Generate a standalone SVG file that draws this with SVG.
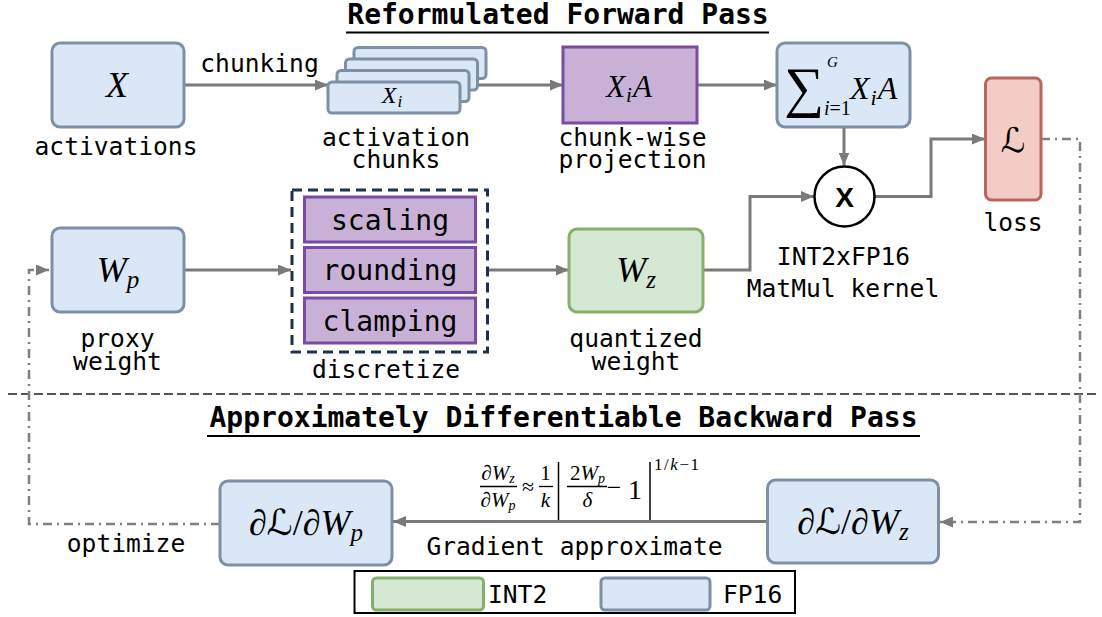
<svg xmlns="http://www.w3.org/2000/svg" width="1102" height="617" viewBox="0 0 1102 617">
  <style>
    .lbl { font-family: "DejaVu Sans Mono", "Liberation Mono", monospace; font-size: 24.6px; fill: #000; text-anchor: middle; }
    .big { font-size: 28px; }
    .start { text-anchor: start; }
    .ttl { font-family: "DejaVu Sans Mono", "Liberation Mono", monospace; font-size: 28px; font-weight: bold; fill: #000; text-anchor: middle; }
    .math { font-family: "Liberation Serif", "DejaVu Serif", serif; font-style: italic; fill: #000; }
    .rm { font-family: "Liberation Serif", "DejaVu Serif", serif; font-style: normal; fill: #000; }
    .scr { font-family: "DejaVu Serif", "DejaVu Sans", serif; font-style: italic; fill: #000; }
    .blue { fill: #dae7f6; stroke: #7d90a6; stroke-width: 3; }
    .purple { fill: #c8b0d6; stroke: #7b4aa2; stroke-width: 3; }
    .green { fill: #d5e8d4; stroke: #86b06a; stroke-width: 3; }
    .red { fill: #f4ccc6; stroke: #b8655e; stroke-width: 3; }
    .flow { fill: none; stroke: #7a7a7a; stroke-width: 3; }
    .loop { fill: none; stroke: #808080; stroke-width: 2.5; stroke-dasharray: 9 5 2 5; }
    .rule { stroke: #000; stroke-width: 2; }
    .bar { stroke: #000; stroke-width: 1.3; }
  </style>
  <defs>
    <marker id="arrow" markerUnits="userSpaceOnUse" markerWidth="13" markerHeight="11" refX="13" refY="5.5" orient="auto">
      <path d="M0,0 L13,5.5 L0,11 Z" fill="#7a7a7a"/>
    </marker>
  </defs>

  <rect x="0" y="0" width="1102" height="617" fill="#fff"/>

  <!-- section titles -->
  <g id="titles">
    <text class="ttl" x="558" y="24">Reformulated Forward Pass</text>
    <line class="rule" x1="346" y1="32.5" x2="769" y2="32.5"/>
    <text class="ttl" x="563.5" y="427">Approximately Differentiable Backward Pass</text>
    <line class="rule" x1="207" y1="436" x2="920" y2="436"/>
  </g>

  <!-- forward / backward separator -->
  <line id="separator" x1="8" y1="394" x2="1100" y2="394" stroke="#555" stroke-width="2" stroke-dasharray="9 4"/>

  <!-- connectors -->
  <g id="connectors">
    <path class="flow" d="M184,85 H328" marker-end="url(#arrow)"/>
    <path class="flow" d="M470,85 H563" marker-end="url(#arrow)"/>
    <path class="flow" d="M697,85 H777" marker-end="url(#arrow)"/>
    <path class="flow" d="M844,127 V165.5" marker-end="url(#arrow)"/>
    <path class="flow" d="M184,270 H291" marker-end="url(#arrow)"/>
    <path class="flow" d="M488,270 H569" marker-end="url(#arrow)"/>
    <path class="flow" d="M703,270 H750 V196.5 H814" marker-end="url(#arrow)"/>
    <path class="flow" d="M875,196.5 H931 V139 H985" marker-end="url(#arrow)"/>
    <path class="flow" d="M767,521.5 H393" marker-end="url(#arrow)"/>
    <path class="loop" d="M1041,139 H1080 V522 H940" marker-end="url(#arrow)"/>
    <path class="loop" d="M220,524 H29 V270 H49" marker-end="url(#arrow)"/>
  </g>

  <!-- activations -->
  <g id="node-x">
    <rect class="blue" x="52" y="43" width="132" height="84" rx="8"/>
    <text class="math" x="117" y="97" font-size="36" text-anchor="middle">X</text>
    <text class="lbl" x="116" y="155">activations</text>
  </g>
  <text class="lbl" x="259.5" y="72">chunking</text>

  <!-- activation chunks -->
  <g id="node-chunks">
    <rect class="blue" x="354" y="47.5" width="132" height="31" rx="4"/>
    <rect class="blue" x="345.5" y="59" width="132" height="31" rx="4"/>
    <rect class="blue" x="337" y="70.5" width="132" height="31" rx="4"/>
    <rect class="blue" x="328" y="82" width="132" height="31" rx="4"/>
    <text class="math" x="392" y="103" font-size="24" text-anchor="middle">X<tspan font-size="17" dx="1" dy="4">i</tspan></text>
    <text class="lbl" x="396" y="146">activation</text>
    <text class="lbl" x="396" y="168">chunks</text>
  </g>

  <!-- chunk-wise projection -->
  <g id="node-xia">
    <rect class="purple" x="563" y="47" width="134" height="76"/>
    <text class="math" x="629" y="97" font-size="31" text-anchor="middle">X<tspan font-size="21" dx="1" dy="5">i</tspan><tspan dx="1" dy="-5">A</tspan></text>
    <text class="lbl" x="632.5" y="146">chunk-wise</text>
    <text class="lbl" x="632.5" y="168">projection</text>
  </g>

  <!-- sum over chunks -->
  <g id="node-sum">
    <rect class="blue" x="777" y="43" width="133" height="84" rx="8"/>
    <text class="rm" x="784" y="106" font-size="56">∑</text>
    <text class="math" x="827" y="67" font-size="15">G</text>
    <text class="math" x="824" y="115" font-size="20">i<tspan class="rm">=1</tspan></text>
    <text class="math" x="850" y="99" font-size="32">X<tspan font-size="22" dx="1" dy="6">i</tspan><tspan dx="1" dy="-6">A</tspan></text>
  </g>

  <!-- multiply kernel -->
  <g id="node-mul">
    <circle cx="844.5" cy="196.5" r="30" fill="#fff" stroke="#000" stroke-width="2.5"/>
    <text x="844.5" y="206.5" font-family="Liberation Sans, DejaVu Sans, sans-serif" font-weight="bold" font-size="28" text-anchor="middle">X</text>
    <text class="lbl" x="843.5" y="265">INT2xFP16</text>
    <text class="lbl" x="843" y="297">MatMul kernel</text>
  </g>

  <!-- loss -->
  <g id="node-loss">
    <rect class="red" x="985.5" y="78" width="55.5" height="122" rx="6"/>
    <text class="scr" x="1013" y="152" font-size="34" text-anchor="middle">ℒ</text>
    <text class="lbl" x="1013" y="231">loss</text>
  </g>

  <!-- proxy weight -->
  <g id="node-wp">
    <rect class="blue" x="52" y="228" width="132" height="84" rx="8"/>
    <text class="math" x="118" y="282" font-size="36" text-anchor="middle">W<tspan font-size="25" dy="6">p</tspan></text>
    <text class="lbl" x="117.5" y="347">proxy</text>
    <text class="lbl" x="117.5" y="370">weight</text>
  </g>

  <!-- discretize -->
  <g id="node-discretize">
    <rect x="292" y="190" width="195.5" height="162" fill="none" stroke="#1f3152" stroke-width="3" stroke-dasharray="10 6"/>
    <rect class="purple" x="304.5" y="197" width="171" height="45"/>
    <rect class="purple" x="304.5" y="247.5" width="171" height="45"/>
    <rect class="purple" x="304.5" y="298" width="171" height="45"/>
    <text class="lbl big" x="390" y="229.5">scaling</text>
    <text class="lbl big" x="390" y="280">rounding</text>
    <text class="lbl big" x="390" y="330.5">clamping</text>
    <text class="lbl" x="386" y="378">discretize</text>
  </g>

  <!-- quantized weight -->
  <g id="node-wz">
    <rect class="green" x="569" y="229" width="134" height="83" rx="8"/>
    <text class="math" x="636" y="282" font-size="36" text-anchor="middle">W<tspan font-size="25" dy="6">z</tspan></text>
    <text class="lbl" x="636" y="347">quantized</text>
    <text class="lbl" x="636" y="370">weight</text>
  </g>

  <!-- gradient w.r.t. proxy weight -->
  <g id="node-dwp">
    <rect class="blue" x="220" y="481" width="172" height="84" rx="8"/>
    <text class="math" x="306" y="535" font-size="36" text-anchor="middle">∂<tspan class="scr">ℒ</tspan><tspan class="rm">/</tspan>∂W<tspan font-size="25" dy="6">p</tspan></text>
    <text class="lbl" x="126" y="552">optimize</text>
  </g>

  <!-- gradient w.r.t. quantized weight -->
  <g id="node-dwz">
    <rect class="blue" x="767.5" y="480" width="171" height="83" rx="8"/>
    <text class="math" x="853" y="534" font-size="36" text-anchor="middle">∂<tspan class="scr">ℒ</tspan><tspan class="rm">/</tspan>∂W<tspan font-size="25" dy="6">z</tspan></text>
  </g>

  <!-- gradient approximation formula -->
  <g id="formula">
    <text class="math" x="498" y="480" font-size="21" text-anchor="middle">∂W<tspan font-size="14" dy="3">z</tspan></text>
    <line class="bar" x1="480" y1="486.5" x2="517" y2="486.5"/>
    <text class="math" x="498" y="507" font-size="21" text-anchor="middle">∂W<tspan font-size="14" dy="3">p</tspan></text>
    <text class="rm" x="528" y="494" font-size="22" text-anchor="middle">≈</text>
    <text class="rm" x="545.5" y="480" font-size="21" text-anchor="middle">1</text>
    <line class="bar" x1="539" y1="486.5" x2="553" y2="486.5"/>
    <text class="math" x="545.5" y="507" font-size="21" text-anchor="middle">k</text>
    <line x1="558.5" y1="462" x2="558.5" y2="520" stroke="#000" stroke-width="1.5"/>
    <text class="rm" x="587.5" y="480" font-size="21" text-anchor="middle">2<tspan class="math">W</tspan><tspan class="math" font-size="14" dy="3">p</tspan></text>
    <line class="bar" x1="567" y1="486.5" x2="607" y2="486.5"/>
    <text class="math" x="587.5" y="507" font-size="21" text-anchor="middle">δ</text>
    <text class="rm" x="614" y="496" font-size="26" text-anchor="middle">−</text>
    <text class="rm" x="635" y="499" font-size="28" text-anchor="middle">1</text>
    <line x1="650" y1="462" x2="650" y2="520" stroke="#000" stroke-width="1.5"/>
    <text class="rm" x="654" y="470" font-size="17" textLength="45" lengthAdjust="spacing">1/<tspan class="math">k</tspan>−1</text>
    <text class="lbl" x="574.5" y="555">Gradient approximate</text>
  </g>

  <!-- legend -->
  <g id="legend">
    <rect x="354.5" y="571" width="440.5" height="42" fill="#fff" stroke="#000" stroke-width="2"/>
    <rect class="green" x="372.5" y="578" width="111" height="32" rx="4"/>
    <text class="lbl start" x="488" y="603">INT2</text>
    <rect class="blue" x="601" y="578" width="109" height="32" rx="4"/>
    <text class="lbl start" x="723" y="603">FP16</text>
  </g>
</svg>
